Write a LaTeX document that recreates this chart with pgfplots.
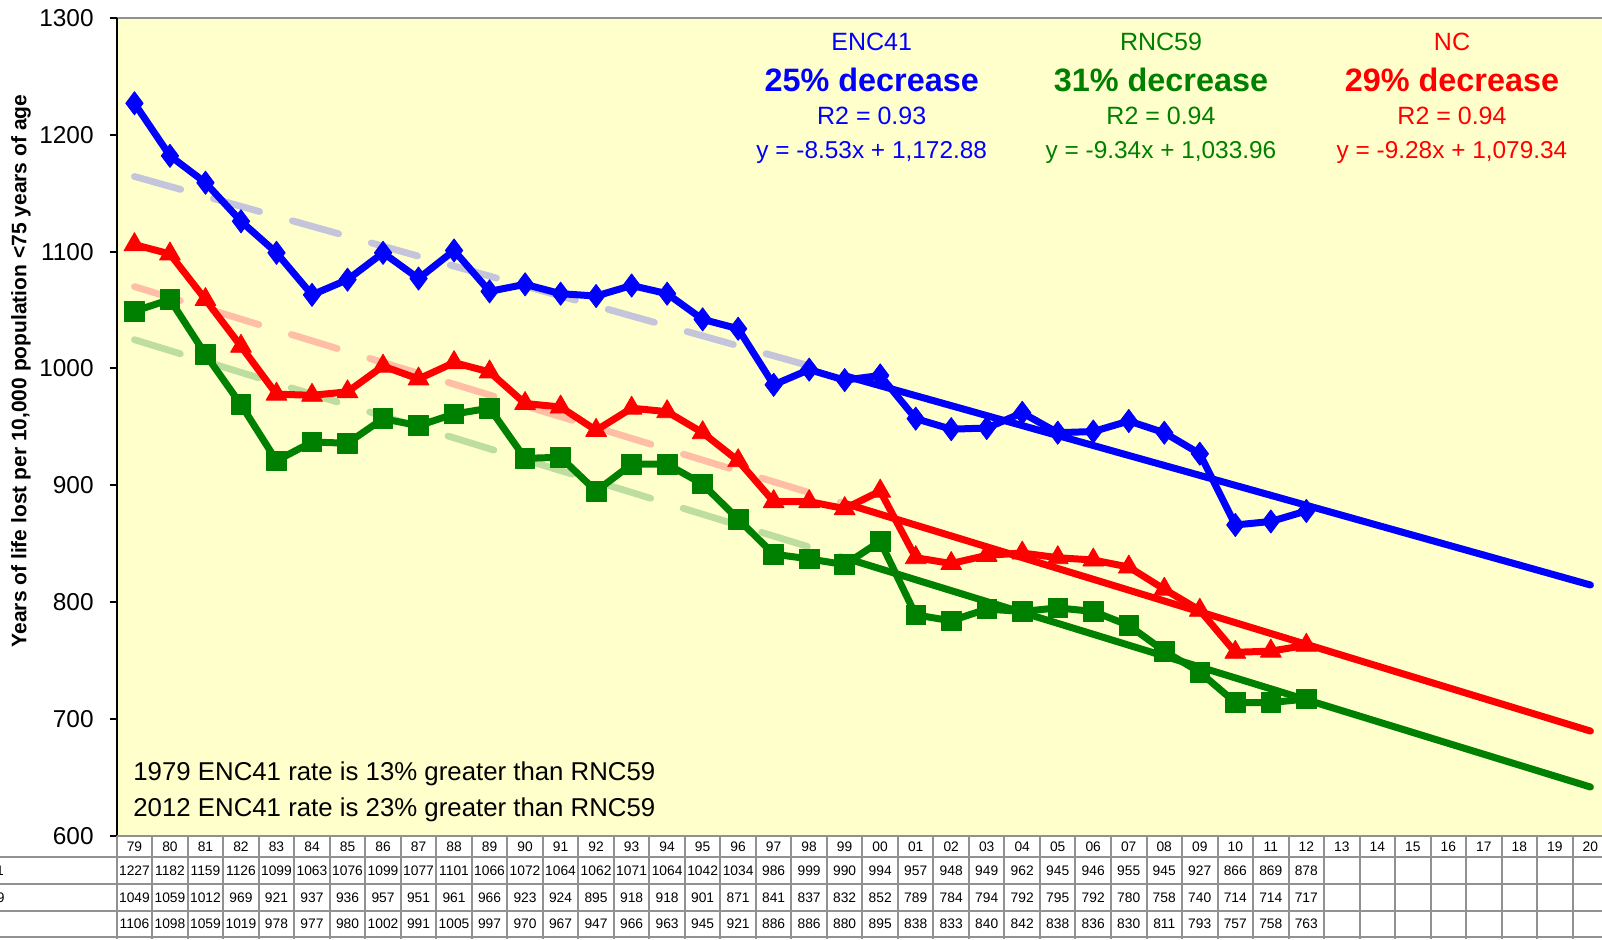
\documentclass[border=0pt]{standalone}
\usepackage{pgfplots}
\pgfplotsset{compat=1.18}
\usepackage{pgfplotstable}
\usepackage{fontspec}
\setmainfont{Liberation Sans}
\definecolor{bgyel}{RGB}{255,255,204}
\definecolor{cblue}{RGB}{0,0,255}
\definecolor{cred}{RGB}{255,0,0}
\definecolor{cgreen}{RGB}{0,128,0}
\definecolor{fblue}{RGB}{196,196,218}
\definecolor{fred}{RGB}{255,190,165}
\definecolor{fgreen}{RGB}{190,222,160}
\definecolor{gridg}{RGB}{145,145,145}

\pgfplotstableread{
i enc rnc nc
0 1227 1049 1106
1 1182 1059 1098
2 1159 1012 1059
3 1126 969 1019
4 1099 921 978
5 1063 937 977
6 1076 936 980
7 1099 957 1002
8 1077 951 991
9 1101 961 1005
10 1066 966 997
11 1072 923 970
12 1064 924 967
13 1062 895 947
14 1071 918 966
15 1064 918 963
16 1042 901 945
17 1034 871 921
18 986 841 886
19 999 837 886
20 990 832 880
21 994 852 895
22 957 789 838
23 948 784 833
24 949 794 840
25 962 792 842
26 945 795 838
27 946 792 836
28 955 780 830
29 945 758 811
30 927 740 793
31 866 714 757
32 869 714 758
33 878 717 763
}\data

\begin{document}
\begin{tikzpicture}
\useasboundingbox (0,0) rectangle (801pt,469.5pt);
\clip (0,0) rectangle (801pt,469.5pt);
\begin{axis}[
  at={(58.35pt,51.65pt)}, anchor=south west,
  scale only axis, width=745.75pt, height=408.85pt,
  xmin=-0.5, xmax=41.5, ymin=600, ymax=1300,
  axis background/.style={fill=bgyel},
  axis line style={draw=none},
  xtick=\empty, ytick={600,700,...,1300}, ytick pos=left,
  tick align=outside, major tick length=3.5pt,
  tick style={black, line width=1pt},
  /pgf/number format/assume math mode=true,
  /pgf/number format/1000 sep={},
  yticklabel style={font=\fontsize{12.2}{14}\selectfont, xshift=-4.5pt},
]
% faded trend lines
\addplot[fblue, line width=3.4pt, line cap=round, dash pattern=on 24pt off 17pt] coordinates {(0,1164.35) (40.7,817.18)};
\addplot[fred, line width=3.4pt, line cap=round, dash pattern=on 24pt off 17pt] coordinates {(0,1070.06) (40.7,692.36)};
\addplot[fgreen, line width=3.4pt, line cap=round, dash pattern=on 24pt off 17pt] coordinates {(0,1024.62) (40.7,644.48)};
% projected trend
\addplot[cblue, line width=3.5pt, line cap=round] coordinates {(20,993.75) (41,814.62)};
\addplot[cred, line width=3.5pt, line cap=round] coordinates {(20,884.46) (41,689.58)};
\addplot[cgreen, line width=3.5pt, line cap=round] coordinates {(20,837.82) (41,641.68)};
% data
\addplot[cgreen, line width=3.5pt, line join=round, mark=square*, mark size=4.9pt, mark options={solid, line width=0.4pt, fill=cgreen}] table[x=i,y=rnc]{\data};
\addplot[cred, line width=3.5pt, line join=round, mark=triangle*, mark size=6pt, mark options={solid, line width=0.4pt, fill=cred}] table[x=i,y=nc]{\data};
\addplot[cblue, line width=3.5pt, line join=round, mark=diamond*, mark size=5.8pt, mark options={solid, line width=0.4pt, fill=cblue}] table[x=i,y=enc]{\data};
\end{axis}

\begin{scope}[x=0.5pt, y=-0.5pt, shift={(0pt,469.5pt)}]
% frame
\draw[gridg, line width=1pt] (116.7,18) -- (1602,18);
\draw[black, line width=1pt] (116.7,18) -- (116.7,835.7);
% data table grid
\draw[gridg, line width=1pt] (116.7,835.7) -- (1602,835.7);
\foreach \yy in {857,884,910.5,937} {\draw[gridg, line width=1pt] (0,\yy) -- (1602,\yy);}
\foreach \k in {0,...,42} {\draw[gridg, line width=1pt] (116.7+35.51*\k,835.7) -- (116.7+35.51*\k,939);}
% header
\foreach \lbl [count=\k from 0] in {79,80,81,82,83,84,85,86,87,88,89,90,91,92,93,94,95,96,97,98,99,00,01,02,03,04,05,06,07,08,09,10,11,12,13,14,15,16,17,18,19,20}
  {\node[font=\fontsize{6.9}{8}\selectfont, inner sep=0pt] at (134.45+35.51*\k,846.5) {\lbl};}
\foreach \k in {0,...,33} {
  \pgfplotstablegetelem{\k}{enc}\of\data
  \node[font=\fontsize{6.9}{8}\selectfont, inner sep=0pt] at (134.45+35.51*\k,871) {\pgfplotsretval};
  \pgfplotstablegetelem{\k}{rnc}\of\data
  \node[font=\fontsize{6.9}{8}\selectfont, inner sep=0pt] at (134.45+35.51*\k,897.5) {\pgfplotsretval};
  \pgfplotstablegetelem{\k}{nc}\of\data
  \node[font=\fontsize{6.9}{8}\selectfont, inner sep=0pt] at (134.45+35.51*\k,923.5) {\pgfplotsretval};
}
\node[font=\fontsize{6.9}{8}\selectfont, inner sep=0pt, anchor=west] at (-41,871) {ENC41};
\node[font=\fontsize{6.9}{8}\selectfont, inner sep=0pt, anchor=west] at (-41,897.5) {RNC59};
\node[font=\fontsize{6.9}{8}\selectfont, inner sep=0pt, anchor=west] at (-41,923.5) {NC};
% y label
\node[rotate=90, font=\fontsize{10.5}{12}\selectfont\bfseries, inner sep=0pt] at (21,371) {Years of life lost per 10,000 population <75 years of age};
% annotations
\begin{scope}[every node/.style={inner sep=0pt, anchor=base}]
\node[cblue, font=\fontsize{12.5}{15}\selectfont] at (871.7,51) {ENC41};
\node[cblue, font=\fontsize{16.2}{19}\selectfont\bfseries] at (871.7,91.7) {25\% decrease};
\node[cblue, font=\fontsize{12.5}{15}\selectfont] at (871.7,125) {R2 = 0.93};
\node[cblue, font=\fontsize{12.2}{15}\selectfont] at (871.7,159) {y = -8.53x + 1,172.88};
\node[cgreen, font=\fontsize{12.5}{15}\selectfont] at (1161,51) {RNC59};
\node[cgreen, font=\fontsize{16.2}{19}\selectfont\bfseries] at (1161,91.7) {31\% decrease};
\node[cgreen, font=\fontsize{12.5}{15}\selectfont] at (1161,125) {R2 = 0.94};
\node[cgreen, font=\fontsize{12.2}{15}\selectfont] at (1161,159) {y = -9.34x + 1,033.96};
\node[cred, font=\fontsize{12.5}{15}\selectfont] at (1452,51) {NC};
\node[cred, font=\fontsize{16.2}{19}\selectfont\bfseries] at (1452,91.7) {29\% decrease};
\node[cred, font=\fontsize{12.5}{15}\selectfont] at (1452,125) {R2 = 0.94};
\node[cred, font=\fontsize{12.2}{15}\selectfont] at (1452,159) {y = -9.28x + 1,079.34};
\node[anchor=base west, font=\fontsize{12.9}{15}\selectfont] at (133,780) {1979 ENC41 rate is 13\% greater than RNC59};
\node[anchor=base west, font=\fontsize{12.9}{15}\selectfont] at (133,816) {2012 ENC41 rate is 23\% greater than RNC59};
\end{scope}
\end{scope}
\end{tikzpicture}
\end{document}
